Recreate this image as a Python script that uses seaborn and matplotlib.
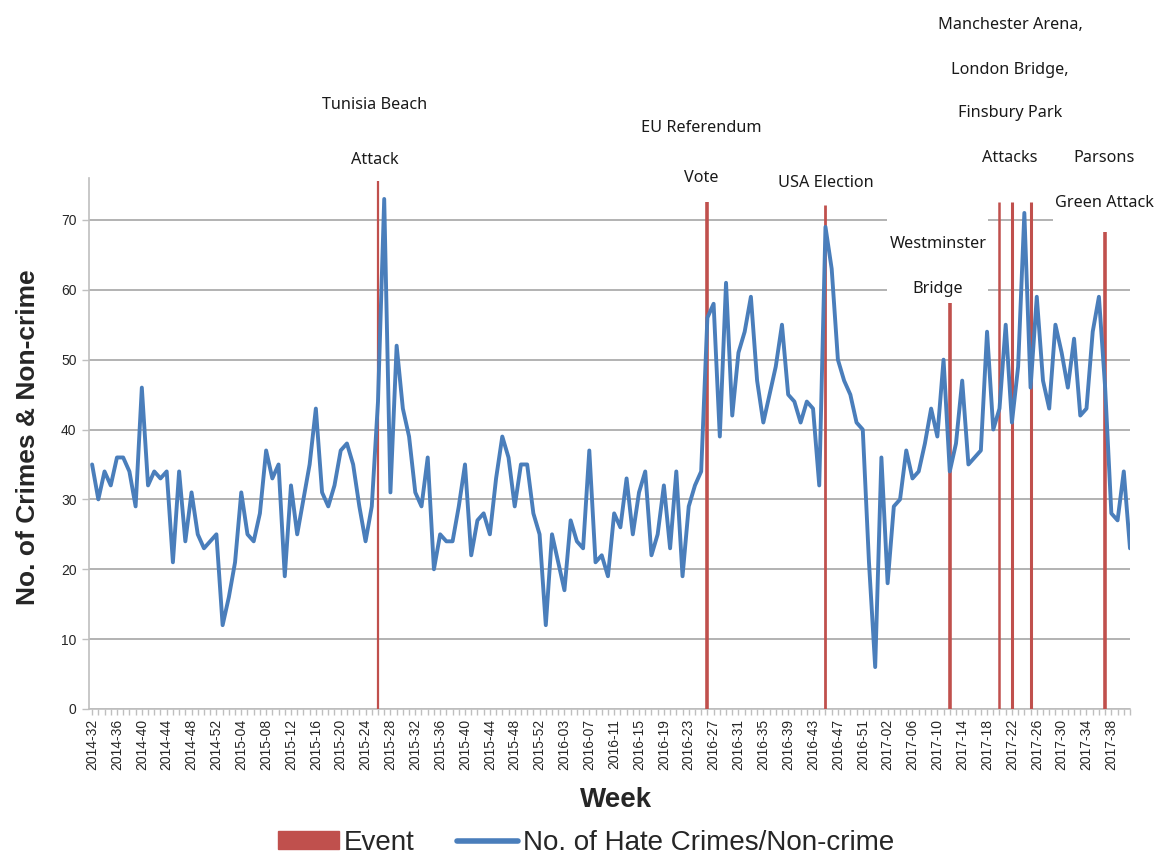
import matplotlib
matplotlib.use("Agg")
import matplotlib.pyplot as plt
import seaborn as sns
import pandas as pd
from matplotlib.patches import Patch, Rectangle
from matplotlib.lines import Line2D
from matplotlib.ticker import MultipleLocator
from matplotlib.font_manager import FontProperties

# ---------------- data ----------------
weeks = ([f"2014-{w:02d}" for w in range(32, 53)] +
         [f"2015-{w:02d}" for w in range(1, 54)] +
         [f"2016-{w:02d}" for w in range(1, 54)] +
         [f"2017-{w:02d}" for w in range(1, 42)])

hate_crimes = [
    35, 30, 34, 32, 36, 36, 34, 29, 46, 32,
    34, 33, 34, 21, 34, 24, 31, 25, 23, 24,
    25, 12, 16, 21, 31, 25, 24, 28, 37, 33,
    35, 19, 32, 25, 30, 35, 43, 31, 29, 32,
    37, 38, 35, 29, 24, 29, 44, 73, 31, 52,
    43, 39, 31, 29, 36, 20, 25, 24, 24, 29,
    35, 22, 27, 28, 25, 33, 39, 36, 29, 35,
    35, 28, 25, 12, 25, 21, 17, 27, 24, 23,
    37, 21, 22, 19, 28, 26, 33, 25, 31, 34,
    22, 25, 32, 23, 34, 19, 29, 32, 34, 56,
    58, 39, 61, 42, 51, 54, 59, 47, 41, 45,
    49, 55, 45, 44, 41, 44, 43, 32, 69, 63,
    50, 47, 45, 41, 40, 21, 6, 36, 18, 29,
    30, 37, 33, 34, 38, 43, 39, 50, 34, 38,
    47, 35, 36, 37, 54, 40, 43, 55, 41, 49,
    71, 46, 59, 47, 43, 55, 51, 46, 53, 42,
    43, 54, 59, 46, 28, 27, 34, 23,
]

event_weeks = ["2015-26", "2016-26", "2016-45", "2017-12",
               "2017-20", "2017-22", "2017-25", "2017-37"]
event_heights = [75.5, 72.6, 72.2, 58.1, 72.6, 72.6, 72.6, 68.2]
event_labels = [
    ["Tunisia Beach", "Attack"],
    ["EU Referendum", "Vote"],
    ["USA Election"],
    ["Westminster", "Bridge"],
    ["Manchester Arena,", "London Bridge,", "Finsbury Park", "Attacks"],
    ["Parsons", "Green Attack"],
]

y_ticks = [0, 10, 20, 30, 40, 50, 60, 70]

# ---------------- style ----------------
sns.set_theme(style="white")
plt.rcParams['font.family'] = ['Liberation Sans', 'DejaVu Sans']

BLUE = "#4A7EBB"
RED = "#C0504D"
GRID = "#A6A6A6"

ann_font = FontProperties(family="Noto Sans", size=11.7)

fig = plt.figure(figsize=(11.57, 8.58), dpi=100)
ax = fig.add_axes([89 / 1157, 1 - 709 / 858, (1130 - 89) / 1157, (709 - 178) / 858])

df = pd.DataFrame({"pos": range(len(weeks)), "week": weeks, "count": hate_crimes})

# event lines
ev_pos = [weeks.index(w) for w in event_weeks]
ev_lw = [1.6, 2.6, 2.0, 2.6, 1.8, 2.2, 2.2, 2.6]
for p, h, lw in zip(ev_pos, event_heights, ev_lw):
    ax.vlines(p, 0, h, color=RED, lw=lw, zorder=3)

sns.lineplot(data=df, x="pos", y="count", color=BLUE, lw=2.8, ax=ax, zorder=4)

ax.set_xlim(-0.5, len(weeks) - 1)
ax.set_ylim(0, 76)
ax.set_yticks(y_ticks)
ax.yaxis.grid(True, color=GRID, lw=1.2, zorder=0.5)
ax.set_axisbelow(True)

ax.set_xticks(range(0, len(weeks), 4))
ax.set_xticklabels(weeks[::4], rotation=90, fontsize=10)
ax.xaxis.set_minor_locator(MultipleLocator(1))
ax.tick_params(axis="x", which="both", direction="out", length=4, width=1,
               color="#BFBFBF", bottom=True, pad=3)
ax.tick_params(axis="y", which="major", direction="out", length=5, width=1,
               color="#BFBFBF", left=True, labelsize=10, pad=4)

for s in ["top", "right"]:
    ax.spines[s].set_visible(False)
for s in ["left", "bottom"]:
    ax.spines[s].set_color("#BFBFBF")
    ax.spines[s].set_linewidth(1.2)

ax.set_xlabel("")
ax.set_ylabel("")

# white label backgrounds that interrupt gridlines
ax.add_patch(Rectangle((127.9, 58.6), 16.3, 15.0, facecolor="white",
                       edgecolor="none", zorder=1.5, clip_on=False))
ax.add_patch(Rectangle((154.6, 63.0), 14.0, 13.0, facecolor="white",
                       edgecolor="none", zorder=1.5, clip_on=False))

# annotations (one text per line)
label_x = [45.5, 98.0, 118.1, 136.1, 147.7, 162.9]
label_y = [[86.5, 78.6], [83.2, 76.0], [75.3], [66.6, 60.1],
           [97.9, 91.5, 85.3, 78.9], [78.9, 72.4]]
for lines, x, ys in zip(event_labels, label_x, label_y):
    for txt, y in zip(lines, ys):
        ax.text(x, y, txt, ha="center", va="center", fontproperties=ann_font,
                color="#1a1a1a", clip_on=False, zorder=6)

# axis titles
fig.text(28 / 1157, 1 - 437 / 858, "No. of Crimes & Non-crime", rotation=90,
         ha="center", va="center", fontsize=19, fontweight="bold")
fig.text(616 / 1157, 1 - 800 / 858, "Week", ha="center", va="center",
         fontsize=20, fontweight="bold")

handles = [Patch(facecolor=RED, edgecolor=RED, label="Event"),
           Line2D([0], [0], color=BLUE, lw=4, solid_capstyle="round",
                  label="No. of Hate Crimes/Non-crime")]
fig.legend(handles=handles, loc="center", bbox_to_anchor=(586 / 1157, 1 - 843 / 858),
           ncol=2, frameon=False, fontsize=20, handlelength=2.2, handleheight=0.6,
           handletextpad=0.2, columnspacing=1.5, borderpad=0)

fig.savefig("out.png", dpi=100)
